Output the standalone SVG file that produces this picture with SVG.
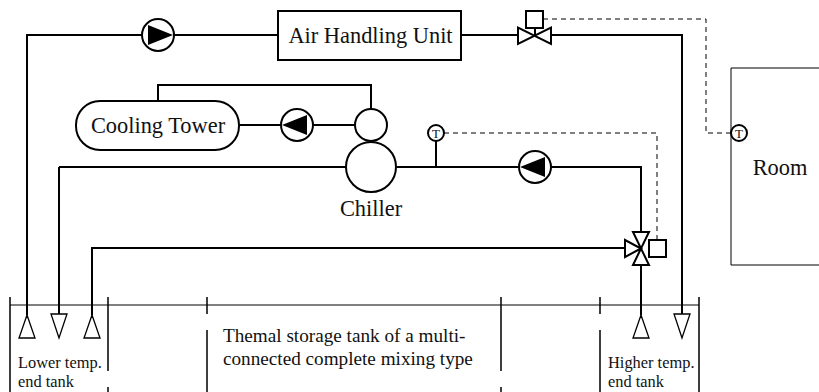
<svg xmlns="http://www.w3.org/2000/svg" width="819" height="392" viewBox="0 0 819 392">
<style>
text{font-family:"Liberation Serif","Times New Roman",serif;fill:#111}
.l{font-size:22.400px}.m{font-size:19.200px}.s{font-size:16.400px}
.p{fill:none;stroke:#000;stroke-width:2}
.d{fill:none;stroke:#000;stroke-width:1;stroke-dasharray:5 4}
.n{fill:#fff;stroke:#000;stroke-width:2}
.t{fill:#fff;stroke:#000;stroke-width:1.3}
.w{fill:none;stroke:#000;stroke-width:1.5}
</style>
<defs>
<g id="pump"><circle r="16" class="n"/><path d="M-15 0L10-10V10Z" fill="#000"/></g>
<g id="ts"><circle r="8" class="n"/><text y="4.500" text-anchor="middle" font-size="13">T</text></g>
</defs>
<g id="tank">
<path d="M10 305H699" fill="none" stroke="#000" stroke-width="1"/>
<path class="w" d="M10 297V392M699 297V392M108 297V371M108 387V392M207 297V314M207 330V392M501 297V371M501 387V392M600 297V314M600 330V392"/>
<text class="m" x="223" y="342">Themal storage tank of a multi-</text>
<text class="m" x="223" y="365">connected complete mixing type</text>
<text class="s" x="18" y="368">Lower temp.</text>
<text class="s" x="18" y="387">end tank</text>
<text class="s" x="608" y="368">Higher temp.</text>
<text class="s" x="608" y="387">end tank</text>
</g>
<g id="connectors">
<path class="p" d="M278 35H27V315M59 167V314M92 315V248H625M346 167H59M396 167H641V232M641 265V315M461 35H518M551 35H682V314M158 101V85H371V109M239 125H355M535 27V35"/>
<path class="p" d="M436 141V167"/>
<path class="d" d="M543 19H706V133H731M444 133H657V240"/>
</g>
<g id="ports">
<path class="t" d="M27 315L35 338H19ZM92 315L100 338H84ZM641 315L649 338H633ZM51 314H67L59 338ZM674 314H690L682 338Z"/>
</g>
<g id="ahu"><rect class="n" x="278" y="11" width="183" height="49"/><text class="l" x="370.500" y="43" text-anchor="middle">Air Handling Unit</text></g>
<g id="tower"><rect class="n" x="76" y="101" width="163" height="49" rx="24" ry="24"/><text class="l" x="158" y="133" text-anchor="middle">Cooling Tower</text></g>
<g id="chiller"><circle class="n" cx="371" cy="125" r="16"/><circle class="n" cx="371" cy="167" r="25"/><text class="l" x="371" y="216" text-anchor="middle">Chiller</text></g>
<g id="room"><path d="M819 68H731V265H819" fill="#fff" stroke="#000" stroke-width="1"/><text class="l" x="780" y="175" text-anchor="middle">Room</text></g>
<g id="pump1"><use href="#pump" transform="translate(158 35) rotate(180)"/></g>
<g id="pump2"><use href="#pump" transform="translate(297 125)"/></g>
<g id="pump3"><use href="#pump" transform="translate(535 167)"/></g>
<g id="valve2"><path class="n" d="M518 27.500V44L551 27.500V44Z"/><rect class="n" x="526" y="11" width="17" height="17"/></g>
<g id="valve3"><path class="n" d="M633 232H649L633 265H649ZM625 240L641 248.500L625 257Z"/><rect class="n" x="649" y="240" width="17" height="17"/></g>
<g id="t1"><use href="#ts" transform="translate(436 133)"/></g>
<g id="t2"><use href="#ts" transform="translate(739 133)"/></g>
</svg>
